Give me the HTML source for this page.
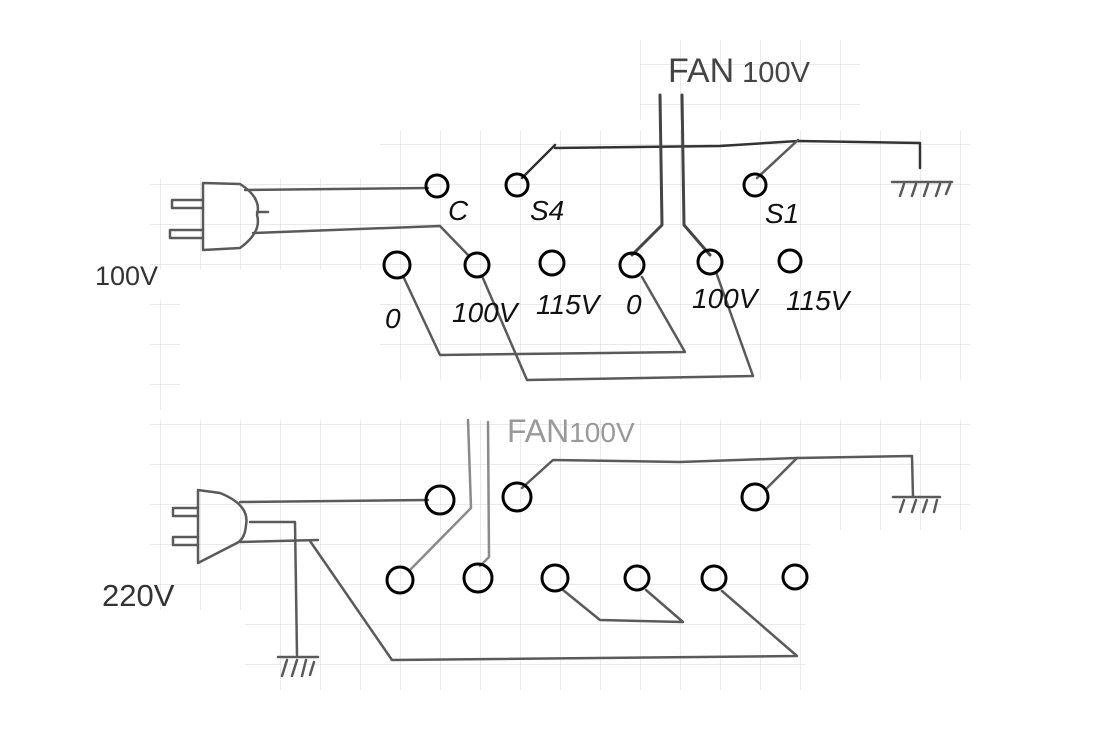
<!DOCTYPE html>
<html><head><meta charset="utf-8"><style>
html,body{margin:0;padding:0;background:#fff;}
svg{display:block}
text{font-family:"Liberation Sans",sans-serif;}
</style></head><body>
<svg width="1106" height="736" viewBox="0 0 1106 736" xmlns="http://www.w3.org/2000/svg">
<defs>
<pattern id="g" x="0" y="24" width="40" height="40" patternUnits="userSpaceOnUse">
<path d="M0 0H40M0 0V40" stroke="#d6d6d6" stroke-width="1" fill="none"/>
</pattern>
</defs>
<rect width="1106" height="736" fill="#fff"/>
<g fill="url(#g)">
<rect x="150" y="178" width="710" height="92"/>
<rect x="380" y="130" width="590" height="250"/>
<rect x="640" y="40" width="220" height="80"/>
<rect x="150" y="300" width="30" height="110"/>
<rect x="150" y="420" width="820" height="110"/>
<rect x="150" y="530" width="660" height="80"/>
<rect x="245" y="600" width="560" height="90"/>
</g>
<g fill="none" stroke="#5a5a5a" stroke-width="2.5" stroke-linecap="round" stroke-linejoin="round">
<path d="M203 183 L203 250 M203 183 L240 184 Q262 198 257 215 Q262 232 240 248 L203 250"/>
<path d="M172 200 H203 M172 208 H203 M172 200 V208 M170 230 H203 M170 238 H203 M170 230 V238 M257 212 H268"/>
<path d="M245 190 L428 188"/>
<path d="M253 233 L440 226 L468 255"/>
<path d="M522 178 L555 145 M555 148 L720 146 L798 141 L920 143 L920 168" stroke="#333"/>
<path d="M757 178 L798 140"/>
<path d="M892 182 H952 M900 196 L904 184 M912 196 L916 184 M924 196 L928 184 M936 196 L940 184 M946 194 L950 184"/>
<path d="M660 95 L662 225 L632 255 M682 95 L684 225 L710 255" stroke="#444" stroke-width="3"/>
<path d="M403 276 L440 355 L685 352 L642 277"/>
<path d="M482 276 L527 380 L753 376 L716 272"/>
<path d="M198 490 L198 563 M198 490 L220 493 Q250 505 246 525 Q245 540 235 544 L198 563"/>
<path d="M173 508 H198 M173 516 H198 M173 508 V516 M173 537 H198 M173 545 H198 M173 537 V545"/>
<path d="M240 502 L428 500"/>
<path d="M250 522 L295 522 L297 655"/>
<path d="M240 542 L318 540 M310 541 L392 660 L797 656 L722 591"/>
<path d="M278 657 H318 M282 676 L287 660 M292 676 L297 660 M302 676 L306 660 M310 675 L314 662"/>
<path d="M468 420 L471 508 L410 570 M488 422 L489 557 L480 566" stroke="#8a8a8a"/>
<path d="M522 488 L553 460 L680 462 L797 458 L912 456 L913 497"/>
<path d="M767 488 L797 458"/>
<path d="M893 497 H940 M900 512 L904 500 M912 512 L916 500 M923 512 L927 500 M934 512 L937 500"/>
<path d="M563 590 L600 620 L683 622 L646 590"/>
</g>
<g fill="none" stroke="#000" stroke-width="3">
<circle cx="437" cy="186" r="11"/><circle cx="517" cy="185" r="11"/><circle cx="755" cy="185" r="11"/>
<circle cx="397" cy="265" r="13"/><circle cx="477" cy="265" r="12"/><circle cx="552" cy="263" r="12"/>
<circle cx="632" cy="265" r="12"/><circle cx="710" cy="262" r="12"/><circle cx="790" cy="261" r="11"/>
<circle cx="440" cy="500" r="14"/><circle cx="517" cy="497" r="14"/><circle cx="755" cy="497" r="13"/>
<circle cx="400" cy="580" r="13"/><circle cx="478" cy="578" r="14"/><circle cx="555" cy="578" r="13"/>
<circle cx="637" cy="578" r="12"/><circle cx="714" cy="578" r="12"/><circle cx="795" cy="577" r="12"/>
</g>
<g fill="#111" font-size="28" font-style="italic">
<text x="448" y="220">C</text>
<text x="530" y="220">S4</text>
<text x="765" y="223">S1</text>
<text x="385" y="328">0</text>
<text x="452" y="322">100V</text>
<text x="536" y="314">115V</text>
<text x="626" y="314">0</text>
<text x="692" y="308">100V</text>
<text x="786" y="310">115V</text>
</g>
<text x="95" y="285" font-size="27" fill="#333">100V</text>
<text x="102" y="606" font-size="31" fill="#333">220V</text>
<text x="668" y="82" font-size="34" fill="#444">FAN<tspan font-size="29"> 100V</tspan></text>
<text x="507" y="442" font-size="32" fill="#999">FAN<tspan font-size="28">100V</tspan></text>
</svg>
</body></html>
